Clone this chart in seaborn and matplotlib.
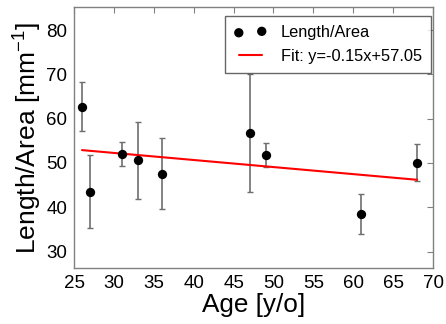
import matplotlib
matplotlib.use("Agg")
import matplotlib.pyplot as plt
import seaborn as sns
import pandas as pd

age = [26, 27, 31, 33, 36, 47, 49, 61, 68]
length_area = [62.7, 43.5, 52.0, 50.6, 47.6, 56.8, 51.7, 38.4, 50.1]
err_low = [57.2, 35.3, 49.3, 41.9, 39.6, 43.5, 49.0, 33.9, 45.9]
err_high = [68.2, 51.8, 54.8, 59.2, 55.6, 70.0, 54.4, 43.0, 54.2]
fit_x = [26, 68]
fit_y = [52.9, 46.2]
fit_label = "Fit: y=-0.15x+57.05"
x_ticks = [25, 30, 35, 40, 45, 50, 55, 60, 65, 70]
y_ticks = [30, 40, 50, 60, 70, 80]

sns.set_style("white")
plt.rcParams['font.family'] = ['Liberation Sans', 'DejaVu Sans']
plt.rcParams['mathtext.fontset'] = 'custom'
plt.rcParams['mathtext.rm'] = 'Liberation Sans'
plt.rcParams['mathtext.it'] = 'Liberation Sans'
plt.rcParams['text.color'] = 'black'
plt.rcParams['axes.labelcolor'] = 'black'

df = pd.DataFrame({"age": age, "val": length_area})
fit_df = pd.DataFrame({"x": fit_x, "y": fit_y})

fig = plt.figure(figsize=(4.46, 3.24), dpi=100)
ax = fig.add_axes([0.166, 0.173, 0.805, 0.804])

yerr = [[v - l for v, l in zip(length_area, err_low)],
        [h - v for v, h in zip(length_area, err_high)]]
ax.errorbar(age, length_area, yerr=yerr, fmt='none', ecolor='#6e6e6e',
            elinewidth=1.2, capsize=2.5, capthick=1.0, zorder=1)
sns.lineplot(data=fit_df, x="x", y="y", color="red", lw=1.5, ax=ax,
             label=fit_label, zorder=2)
sns.scatterplot(data=df, x="age", y="val", color="black", s=45,
                edgecolor="black", linewidth=0, ax=ax, label="Length/Area", zorder=3)

ax.set_xlim(25, 70)
ax.set_ylim(26.3, 85.1)
ax.set_xticks(x_ticks)
ax.set_yticks(y_ticks)
ax.tick_params(direction='in', length=4, width=0.8, color='#808080',
               labelcolor='black', top=True, right=True, labelsize=13.5, pad=5)
for s in ax.spines.values():
    s.set_color('#808080')
    s.set_linewidth(1.0)
ax.set_xlabel("Age [y/o]", fontsize=18.8, labelpad=1)
ax.set_ylabel("Length/Area [mm$^{-1}$]", fontsize=19, labelpad=1.5)

h, l = ax.get_legend_handles_labels()
order = [l.index("Length/Area"), l.index(fit_label)]
leg = ax.legend([h[i] for i in order], [l[i] for i in order], loc='upper right',
                scatterpoints=2, numpoints=2, fontsize=11.8, fancybox=False,
                frameon=True, borderpad=0.55, handlelength=2.0, handletextpad=0.85,
                labelspacing=0.55, borderaxespad=0,
                bbox_to_anchor=(0.9935, 0.967))
leg.get_frame().set_edgecolor('#404040')
leg.get_frame().set_linewidth(1.0)

fig.savefig("out.png", dpi=100)
